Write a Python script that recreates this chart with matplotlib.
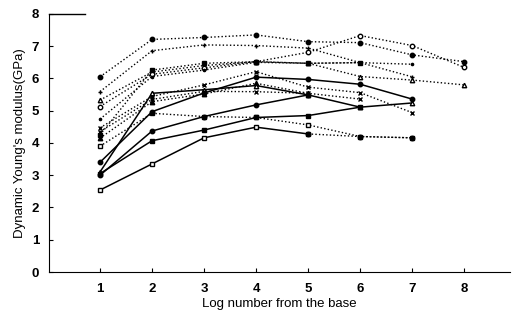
import matplotlib
matplotlib.use('Agg')
import matplotlib.pyplot as plt

plt.rcParams['font.family'] = ['Liberation Sans', 'DejaVu Sans']

# 測定値 (Log number 1..8)
LOGS = [1, 2, 3, 4, 5, 6, 7, 8]

# 実線系列
s1 = [3.10, 5.54, 5.65, 5.78, 5.49, 5.11, 5.24]
s2 = [3.40, 4.97, 5.55, 6.04, 5.97, 5.82, 5.36]
s3 = [3.00, 4.37, 4.82, 5.18, 5.49]
s4 = [3.05, 4.07, 4.40, 4.79, 4.85, 5.11]
s5 = [2.54, 3.35, 4.16, 4.49, 4.28]
s5_tail = [4.28, 4.20, 4.16]   # log 5..7 (点線)

# 点線系列
d1 = [6.05, 7.21, 7.27, 7.35, 7.14, 7.11, 6.73, 6.52]
d2 = [5.59, 6.86, 7.04, 7.02, 6.94, 6.49, 6.05]
d3 = [5.33, 6.20, 6.40, 6.52, 6.47, 6.06, 5.95, 5.80]
d4 = [5.13, 6.13, 6.33, 6.52, 6.81, 7.33, 7.02, 6.34]
d5 = [4.74, 6.06, 6.26, 6.50, 6.47, 6.49, 6.44]
d6 = [4.47, 5.44, 5.80, 6.21, 5.73, 5.56, 4.94]
d7 = [4.35, 5.35, 5.60, 5.59, 5.54, 5.36]
d8 = [4.25, 6.26, 6.47, 6.52, 6.47, 6.49]
d9 = [4.15, 5.28, 5.52, 5.85, 5.54]
d10 = [3.90, 4.92, 4.82, 4.79, 4.56, 4.20, 4.16]

SOLID = [(s1, '^', 'white'), (s2, 'o', 'black'), (s3, 'o', 'black'),
         (s4, 's', 'black'), (s5, 's', 'white')]
DOTTED = [(d1, 'o', 'black'), (d2, '+', 'black'), (d3, '^', 'white'),
          (d4, 'o', 'white'), (d5, '.', 'black'), (d6, 'x', 'black'),
          (d7, 'x', 'black'), (d8, 's', 'black'), (d9, '^', 'black'),
          (d10, 's', 'white')]

fig = plt.figure(figsize=(5.14, 3.21), dpi=100)
ax = fig.add_axes([0.0953, 0.1526, 0.897, 0.804])

for vals, m, fc in DOTTED:
    ax.plot(LOGS[:len(vals)], vals, ls=(0, (1, 1.6)), lw=1.0, color='black',
            marker=m, ms=3.2, mfc=fc, mec='black', mew=1.0)
for vals, m, fc in SOLID:
    ax.plot(LOGS[:len(vals)], vals, ls='-', lw=1.1, color='black',
            marker=m, ms=3.2, mfc=fc, mec='black', mew=1.0)
ax.plot(LOGS[4:4 + len(s5_tail)], s5_tail, ls=(0, (1, 1.6)), lw=1.0, color='black',
        marker='o', ms=3.2, mfc='black', mec='black')

ax.set_xlim(0.02, 8.88)
ax.set_ylim(0, 8)
ax.set_xticks(LOGS)
ax.set_yticks(range(0, 9))
ax.tick_params(direction='in', length=3, width=0.8, labelsize=9.5)
for lab in ax.get_xticklabels() + ax.get_yticklabels():
    lab.set_fontweight('bold')
ax.tick_params(axis='x', pad=8)
ax.tick_params(axis='y', pad=7)
ax.spines['right'].set_visible(False)
ax.spines['top'].set_visible(False)
ax.plot([0.02, 0.72], [8, 8], color='black', lw=1.0, clip_on=False)

ax.set_xlabel('Log number from the base', fontsize=9.5, labelpad=2)
ax.set_ylabel("Dynamic Young's modulus(GPa)", fontsize=9.5, labelpad=4)

fig.savefig('out.png', dpi=100)
